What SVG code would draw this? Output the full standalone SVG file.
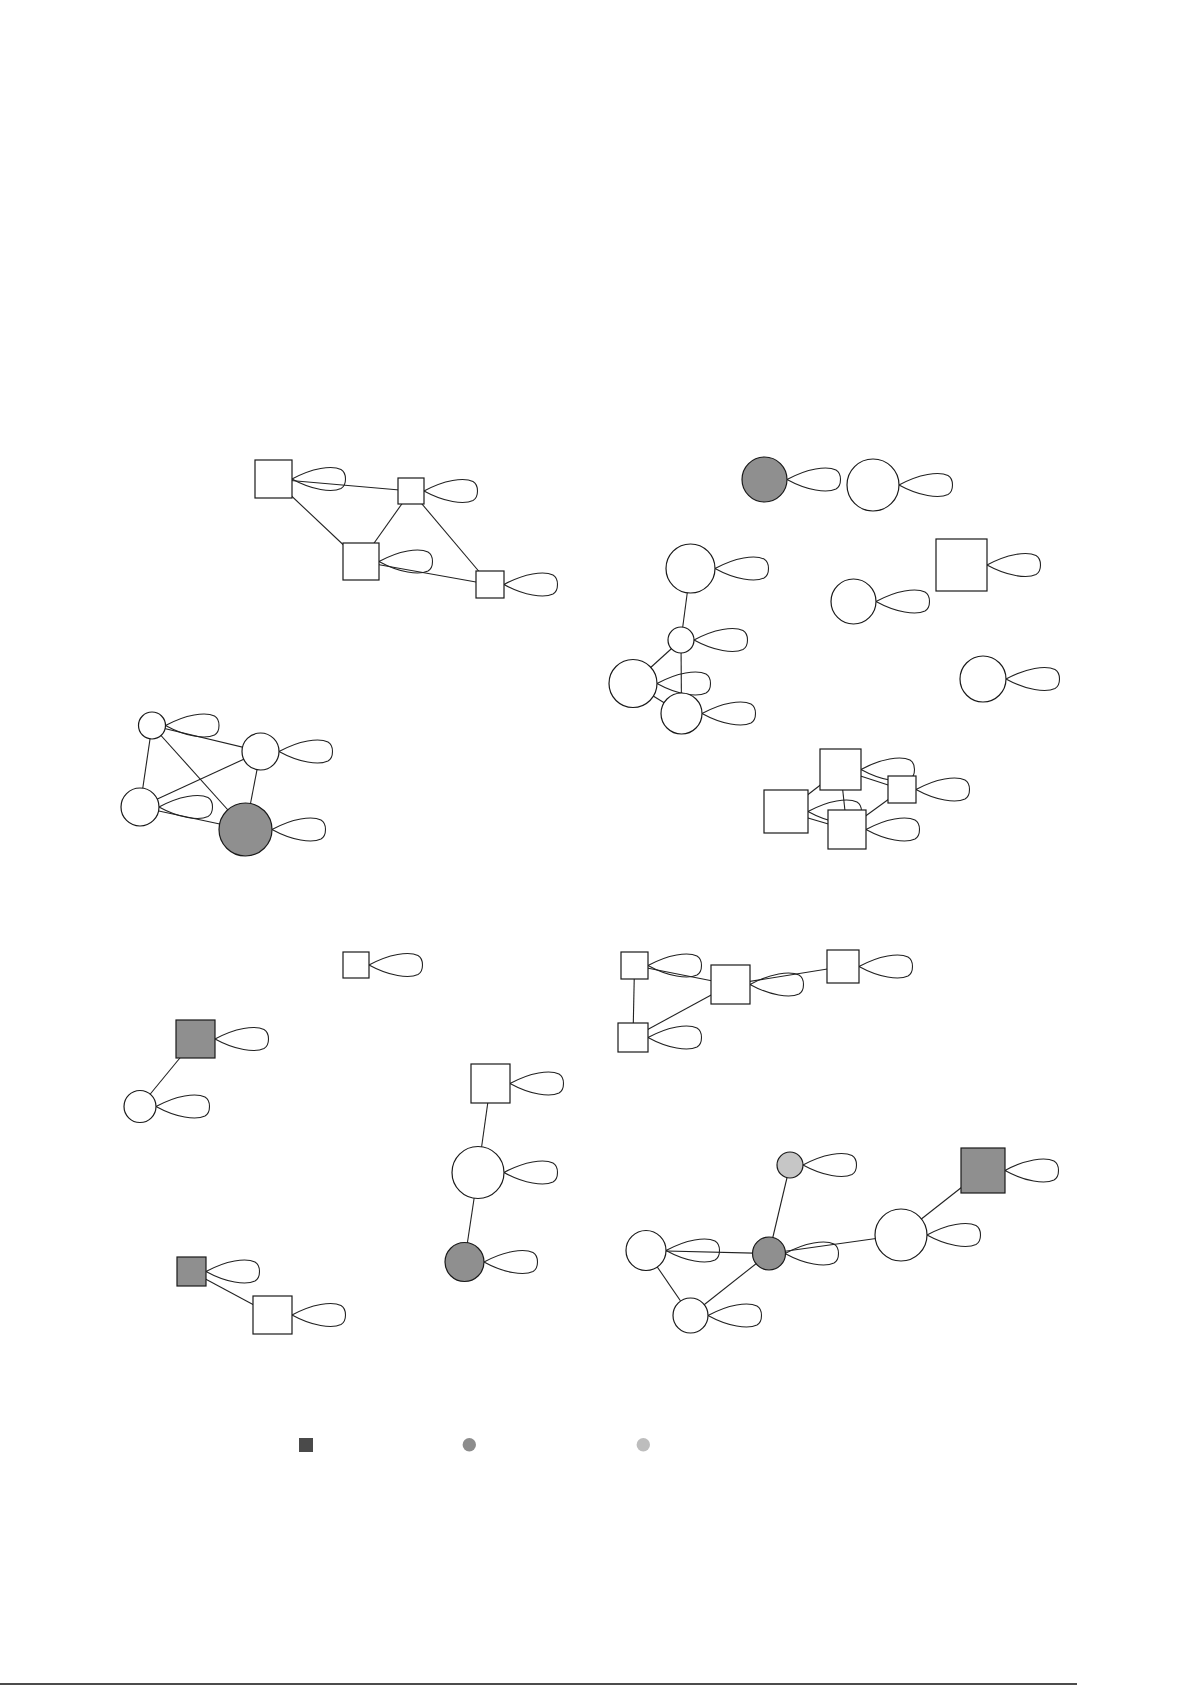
<svg xmlns="http://www.w3.org/2000/svg" xmlns:xlink="http://www.w3.org/1999/xlink" width="1192" height="1685" viewBox="0 0 1192 1685">
<style>
.n{stroke:#1a1a1a;stroke-width:1.2;fill:#fff}
.g{fill:#8f8f8f}
.lg{fill:#c6c6c6}
.e{stroke:#222;stroke-width:1.1;fill:none}
.lp{stroke:#222;stroke-width:1.1;fill:none}
</style>
<defs>
<path id="loop" d="M0,0 C20,-11 40,-14 49,-9.5 C55,-6 55,6 49,9.5 C40,14 20,11 0,0"/>
</defs>
<rect width="1192" height="1685" fill="#fff"/>
<g id="connectors">
<!-- group 1 -->
<line class="e" x1="273.5" y1="479" x2="411" y2="491"/>
<line class="e" x1="273.5" y1="479" x2="361" y2="561.5"/>
<line class="e" x1="411" y1="491" x2="361" y2="561.5"/>
<line class="e" x1="411" y1="491" x2="490" y2="584.5"/>
<line class="e" x1="361" y1="561.5" x2="490" y2="584.5"/>
<!-- group 2 -->
<line class="e" x1="690.5" y1="568.5" x2="681" y2="640"/>
<line class="e" x1="681" y1="640" x2="633" y2="683.5"/>
<line class="e" x1="681" y1="640" x2="681.5" y2="713.5"/>
<line class="e" x1="633" y1="683.5" x2="681.5" y2="713.5"/>
<!-- group 2b -->
<line class="e" x1="786" y1="811.5" x2="840.5" y2="769.5"/>
<line class="e" x1="840.5" y1="769.5" x2="847" y2="829.5"/>
<line class="e" x1="840.5" y1="769.5" x2="902" y2="789.5"/>
<line class="e" x1="786" y1="811.5" x2="847" y2="829.5"/>
<line class="e" x1="847" y1="829.5" x2="902" y2="789.5"/>
<!-- group 3 -->
<line class="e" x1="152" y1="725.5" x2="260.5" y2="751.5"/>
<line class="e" x1="152" y1="725.5" x2="140" y2="807"/>
<line class="e" x1="152" y1="725.5" x2="245.5" y2="829.5"/>
<line class="e" x1="140" y1="807" x2="260.5" y2="751.5"/>
<line class="e" x1="140" y1="807" x2="245.5" y2="829.5"/>
<line class="e" x1="260.5" y1="751.5" x2="245.5" y2="829.5"/>
<!-- group 4 -->
<line class="e" x1="195.5" y1="1039" x2="140" y2="1106.5"/>
<line class="e" x1="490.5" y1="1083.5" x2="478" y2="1172.5"/>
<line class="e" x1="478" y1="1172.5" x2="464.5" y2="1262"/>
<line class="e" x1="191.5" y1="1271.5" x2="272.5" y2="1315"/>
<!-- group 5 -->
<line class="e" x1="634.5" y1="965.5" x2="730.5" y2="984.5"/>
<line class="e" x1="634.5" y1="965.5" x2="633" y2="1037.5"/>
<line class="e" x1="633" y1="1037.5" x2="730.5" y2="984.5"/>
<line class="e" x1="730.5" y1="984.5" x2="843" y2="966.5"/>
<!-- group 6 -->
<line class="e" x1="790" y1="1165" x2="769" y2="1253.5"/>
<line class="e" x1="646" y1="1250.5" x2="769" y2="1253.5"/>
<line class="e" x1="646" y1="1250.5" x2="690.5" y2="1315.5"/>
<line class="e" x1="690.5" y1="1315.5" x2="769" y2="1253.5"/>
<line class="e" x1="769" y1="1253.5" x2="901" y2="1235"/>
<line class="e" x1="901" y1="1235" x2="983" y2="1170.5"/>
<!-- self loops -->
<use href="#loop" class="lp" x="292" y="479"/>
<use href="#loop" class="lp" x="424" y="491"/>
<use href="#loop" class="lp" x="379" y="561.5"/>
<use href="#loop" class="lp" x="504" y="584.5"/>
<use href="#loop" class="lp" x="787" y="479.5"/>
<use href="#loop" class="lp" x="899" y="485"/>
<use href="#loop" class="lp" x="715" y="568.5"/>
<use href="#loop" class="lp" x="694" y="640"/>
<use href="#loop" class="lp" x="657" y="683.5"/>
<use href="#loop" class="lp" x="702" y="713.5"/>
<use href="#loop" class="lp" x="876" y="601.5"/>
<use href="#loop" class="lp" x="987" y="565"/>
<use href="#loop" class="lp" x="1006" y="679"/>
<use href="#loop" class="lp" x="861" y="769.5"/>
<use href="#loop" class="lp" x="916" y="789.5"/>
<use href="#loop" class="lp" x="808" y="811.5"/>
<use href="#loop" class="lp" x="866" y="829.5"/>
<use href="#loop" class="lp" x="165.5" y="725.5"/>
<use href="#loop" class="lp" x="279" y="751.5"/>
<use href="#loop" class="lp" x="159" y="807"/>
<use href="#loop" class="lp" x="272" y="829.5"/>
<use href="#loop" class="lp" x="369" y="965"/>
<use href="#loop" class="lp" x="215" y="1039"/>
<use href="#loop" class="lp" x="156" y="1106.5"/>
<use href="#loop" class="lp" x="510" y="1083.5"/>
<use href="#loop" class="lp" x="504" y="1172.5"/>
<use href="#loop" class="lp" x="484" y="1262"/>
<use href="#loop" class="lp" x="206" y="1271.5"/>
<use href="#loop" class="lp" x="292" y="1315"/>
<use href="#loop" class="lp" x="648" y="965.5"/>
<use href="#loop" class="lp" x="750" y="984.5"/>
<use href="#loop" class="lp" x="859" y="966.5"/>
<use href="#loop" class="lp" x="648" y="1037.5"/>
<use href="#loop" class="lp" x="803" y="1165"/>
<use href="#loop" class="lp" x="1005" y="1170.5"/>
<use href="#loop" class="lp" x="927" y="1235"/>
<use href="#loop" class="lp" x="785" y="1253.5"/>
<use href="#loop" class="lp" x="666" y="1250.5"/>
<use href="#loop" class="lp" x="708" y="1315.5"/>
</g>
<!-- group 1 nodes -->
<g id="n1"><rect class="n" x="255" y="460" width="37" height="38"/></g>
<g id="n2"><rect class="n" x="398" y="478" width="26" height="26"/></g>
<g id="n3"><rect class="n" x="343" y="543" width="36" height="37"/></g>
<g id="n4"><rect class="n" x="476" y="571" width="28" height="27"/></g>
<!-- group 2 nodes -->
<g id="n5"><circle class="n g" cx="764.5" cy="479.5" r="22.5"/></g>
<g id="n6"><circle class="n" cx="873" cy="485" r="26"/></g>
<g id="n7"><circle class="n" cx="690.5" cy="568.5" r="24.5"/></g>
<g id="n8"><circle class="n" cx="681" cy="640" r="13"/></g>
<g id="n9"><circle class="n" cx="633" cy="683.5" r="24"/></g>
<g id="n10"><circle class="n" cx="681.5" cy="713.5" r="20.5"/></g>
<g id="n11"><circle class="n" cx="853.5" cy="601.5" r="22.5"/></g>
<g id="n12"><rect class="n" x="936" y="539" width="51" height="52"/></g>
<g id="n13"><circle class="n" cx="983" cy="679" r="23"/></g>
<g id="n14"><rect class="n" x="820" y="749" width="41" height="41"/></g>
<g id="n15"><rect class="n" x="888" y="776" width="28" height="27"/></g>
<g id="n16"><rect class="n" x="764" y="790" width="44" height="43"/></g>
<g id="n17"><rect class="n" x="828" y="810" width="38" height="39"/></g>
<!-- group 3 nodes -->
<g id="n18"><circle class="n" cx="152" cy="725.5" r="13.5"/></g>
<g id="n19"><circle class="n" cx="260.5" cy="751.5" r="18.5"/></g>
<g id="n20"><circle class="n" cx="140" cy="807" r="19"/></g>
<g id="n21"><circle class="n g" cx="245.5" cy="829.5" r="26.5"/></g>
<!-- group 4 nodes -->
<g id="n22"><rect class="n" x="343" y="952" width="26" height="26"/></g>
<g id="n23"><rect class="n g" x="176" y="1020" width="39" height="38"/></g>
<g id="n24"><circle class="n" cx="140" cy="1106.5" r="16"/></g>
<g id="n25"><rect class="n" x="471" y="1064" width="39" height="39"/></g>
<g id="n26"><circle class="n" cx="478" cy="1172.5" r="26"/></g>
<g id="n27"><circle class="n g" cx="464.5" cy="1262" r="19.5"/></g>
<g id="n28"><rect class="n g" x="177" y="1257" width="29" height="29"/></g>
<g id="n29"><rect class="n" x="253" y="1296" width="39" height="38"/></g>
<!-- group 5 nodes -->
<g id="n30"><rect class="n" x="621" y="952" width="27" height="27"/></g>
<g id="n31"><rect class="n" x="711" y="965" width="39" height="39"/></g>
<g id="n32"><rect class="n" x="827" y="950" width="32" height="33"/></g>
<g id="n33"><rect class="n" x="618" y="1023" width="30" height="29"/></g>
<!-- group 6 nodes -->
<g id="n34"><circle class="n lg" cx="790" cy="1165" r="13"/></g>
<g id="n35"><rect class="n g" x="961" y="1148" width="44" height="45"/></g>
<g id="n36"><circle class="n" cx="901" cy="1235" r="26"/></g>
<g id="n37"><circle class="n g" cx="769" cy="1253.5" r="16.5"/></g>
<g id="n38"><circle class="n" cx="646" cy="1250.5" r="20"/></g>
<g id="n39"><circle class="n" cx="690.5" cy="1315.5" r="17.5"/></g>
<!-- legend -->
<g id="legend">
<rect x="299" y="1438" width="14" height="14" fill="#4a4a4a"/>
<circle cx="469.3" cy="1444.7" r="6.7" fill="#8c8c8c"/>
<circle cx="643.3" cy="1444.7" r="6.7" fill="#bdbdbd"/>
</g>
<line x1="0" y1="1684" x2="1077" y2="1684" stroke="#111" stroke-width="1.3"/>
</svg>
